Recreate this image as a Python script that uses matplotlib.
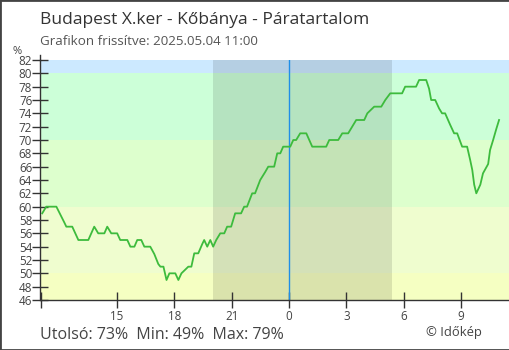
import matplotlib
matplotlib.use("Agg")
import matplotlib.pyplot as plt
from matplotlib.lines import Line2D
from matplotlib.patches import Rectangle

plt.rcParams['font.family'] = ['Open Sans', 'DejaVu Sans']

# =============================================================================
#                               Data
# =============================================================================
title = "Budapest X.ker - Kőbánya - Páratartalom"
subtitle = "Grafikon frissítve: 2025.05.04 11:00"
stats_text = "Utolsó: 73%  Min: 49%  Max: 79%"

# hours since midnight of the previous day (24 = 0:00)
hours = [11.09, 11.30, 11.83, 12.04, 12.25, 12.35, 12.66, 12.98, 13.50, 13.81,
         14.02, 14.34, 14.49, 14.70, 15.01, 15.17, 15.54, 15.70, 15.91, 16.06,
         16.27, 16.43, 16.74, 16.95, 17.16, 17.27, 17.43, 17.59, 17.74, 18.05,
         18.21, 18.37, 18.73, 18.89, 19.04, 19.25, 19.46, 19.56, 19.72, 19.88,
         20.03, 20.19, 20.40, 20.61, 20.76, 20.97, 21.18, 21.49, 21.65, 21.80,
         22.07, 22.22, 22.49, 22.75, 22.91, 23.22, 23.38, 23.54, 23.69, 24.06,
         24.22, 24.37, 24.58, 24.90, 25.21, 25.94, 26.10, 26.57, 26.78, 27.09,
         27.30, 27.51, 27.93, 28.09, 28.45, 28.82, 29.03, 29.29, 29.91, 30.07,
         30.64, 30.80, 31.17, 31.32, 31.43, 31.64, 31.85, 32.00, 32.16, 32.42,
         32.63, 32.79, 33.05, 33.31, 33.47, 33.58, 33.68, 33.79, 34.00, 34.14,
         34.41, 34.51, 34.67, 34.83, 34.98]
humidity = [59, 60, 60, 58.8, 57.6, 57, 57, 55, 55, 57,
            56, 56, 57, 56, 56, 55, 55, 54, 54, 55,
            55, 54, 54, 52.9, 51.4, 51, 51, 49, 50, 50,
            49, 50, 51, 51, 53, 53, 54.4, 55, 54, 55,
            54, 55, 56, 56, 57, 57, 59, 59, 60, 60,
            62, 62, 64, 65.2, 66, 66, 68, 68, 69, 69,
            70, 70, 71, 71, 69, 69, 70, 70, 71, 71,
            72, 73, 73, 74, 75, 75, 76, 77, 77, 78,
            78, 79, 79, 77.7, 76, 76, 74.7, 74, 74, 72.3,
            71, 71, 69, 69, 67, 65.5, 63.3, 62, 63.3, 65,
            66.4, 68.5, 70, 71.6, 73]

band_edges = [46, 50, 60, 70, 80, 82]
band_colors = ['#f5ffc2', '#effdcf', '#ddffcd', '#ccffd8', '#cce9ff']

night_start = 20.0
night_end = 29.37
midnight = 24

xtick_pos = [11, 15, 18, 21, 24, 27, 30, 33]
xtick_lab = ['', '15', '18', '21', '0', '3', '6', '9']
ytick_pos = list(range(46, 83, 2))

# =============================================================================
#                               Plot
# =============================================================================
W, H = 510, 350
fig = plt.figure(figsize=(W / 100, H / 100), dpi=100)
ax = fig.add_axes([40.5 / W, 50 / H, (509 - 40.5) / W, 240 / H])

for i in range(len(band_colors)):
    ax.axhspan(band_edges[i], band_edges[i + 1], color=band_colors[i], lw=0, zorder=0)
ax.axvspan(night_start, night_end, color='black', alpha=0.11, lw=0, zorder=1)
ax.axvline(midnight, color='#1f8fe8', lw=1, zorder=2)

ax.plot(hours, humidity, color='#3dbb3d', lw=1.3, zorder=3)

ax.set_xlim(11, 35.5)
ax.set_ylim(46, 82)
ax.set_xticks(xtick_pos)
ax.set_xticklabels(xtick_lab)
ax.set_yticks(ytick_pos)
ax.tick_params(direction='inout', length=12, width=1, color='#333333',
               labelcolor='#444444', labelsize=8.4, pad=1)
ax.tick_params(axis='y', pad=0)

for s in ['top', 'right']:
    ax.spines[s].set_visible(False)
for s in ['left', 'bottom']:
    ax.spines[s].set_color('#333333')
    ax.spines[s].set_linewidth(1)

# spine extends a little above the plot
fig.add_artist(Line2D([40.5 / W, 40.5 / W], [290 / H, 295 / H], color='#333333', lw=1))

fig.text(40 / W, 1 - 24 / H, title, fontsize=12.5, color='#333333')
fig.text(40 / W, 1 - 45 / H, subtitle, fontsize=9.6, color='#555555')
fig.text(17 / W, 1 - 54 / H, '%', fontsize=8, color='#444444', ha='center')
fig.text(40 / W, 1 - 339 / H, stats_text, fontsize=11.5, color='#444444')
fig.text(482 / W, 1 - 336 / H, '© Időkép', fontsize=9.4, color='#444444', ha='right')

fig.add_artist(Rectangle((0, 0), 1, 1, transform=fig.transFigure, fill=False,
                         edgecolor='#444444', lw=2))

fig.savefig('out.png', dpi=100)
